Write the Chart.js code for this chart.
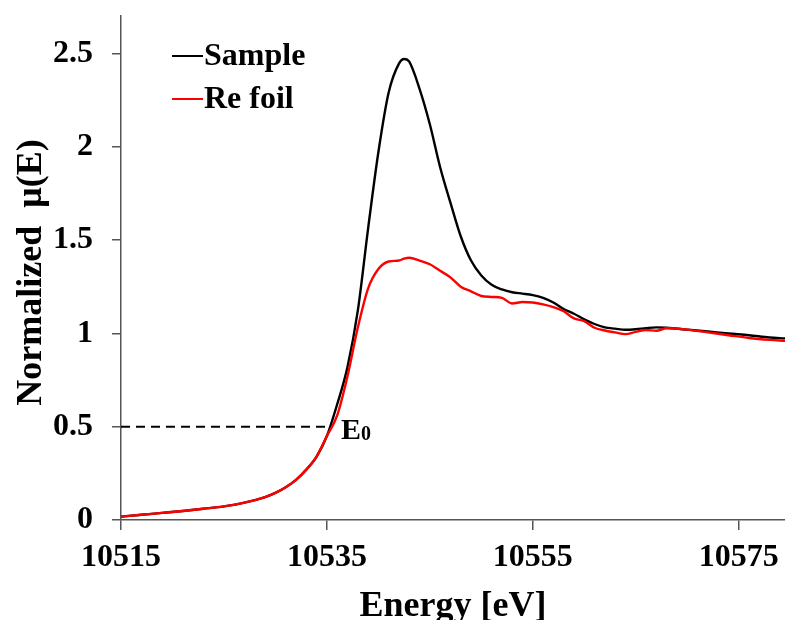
<!DOCTYPE html>
<html>
<head>
<meta charset="utf-8">
<script src="https://cdn.jsdelivr.net/npm/chart.js@4/dist/chart.umd.min.js"></script>
<style>
html,body{margin:0;padding:0;background:#fff;}
canvas{display:block;}
</style>
</head>
<body>
<canvas id="c" width="785" height="620"></canvas>
<script>
// ---- data ----
const energy = [10515,10517,10519,10521,10523,10525,10527,10529,10530,10531,10532,10533,10534,10535,
  10536,10537,10538,10539,10540,10541,10542,10542.5,10543,10544,10545,10546,10547,10548,10549,10550,
  10551,10552,10553,10554,10555,10556,10557,10558,10559,10560,10561,10562,10563,10564,10565,
  10566,10567,10568,10570,10572,10574,10576,10578,10579.5];
const sample = [0.018,0.028,0.038,0.048,0.060,0.073,0.093,0.123,0.145,0.175,0.215,0.270,0.340,0.450,
  0.620,0.820,1.120,1.560,1.970,2.290,2.445,2.470,2.455,2.310,2.120,1.890,1.700,1.520,1.390,1.310,
  1.260,1.235,1.220,1.213,1.205,1.190,1.165,1.130,1.105,1.075,1.050,1.032,1.025,1.019,1.022,
  1.028,1.032,1.030,1.020,1.010,0.999,0.990,0.978,0.973];
const reFoil = [0.018,0.028,0.038,0.048,0.060,0.073,0.093,0.123,0.145,0.175,0.215,0.270,0.340,0.450,
  0.560,0.770,1.030,1.240,1.345,1.385,1.390,1.400,1.405,1.390,1.370,1.335,1.300,1.250,1.225,1.200,
  1.195,1.190,1.160,1.168,1.165,1.155,1.140,1.118,1.080,1.065,1.030,1.015,1.005,0.996,1.008,
  1.018,1.014,1.027,1.020,1.005,0.990,0.975,0.965,0.960];
const xTicks = [10515,10535,10555,10575];
const yTicks = [0,0.5,1,1.5,2,2.5];
const e0Energy = 10535.3;
const e0Level = 0.5;
const seriesNames = ['Sample','Re foil'];
const xTitle = 'Energy [eV]';
const yTitle = 'Normalized  \u03bc(E) ';

const toXY = (xs, ys) => xs.map((x,i)=>({x:x,y:ys[i]}));

const serif = "'Liberation Serif','Times New Roman',serif";
const axisColor = '#555';

const overlay = {
  id:'overlay',
  afterDraw(chart){
    const ctx = chart.ctx;
    ctx.save();
    // legend
    const items = [{name:seriesNames[0], color:'#000', y:56},{name:seriesNames[1], color:'#ff0000', y:99}];
    ctx.font = "bold 32px " + serif;
    ctx.textBaseline = 'alphabetic';
    ctx.textAlign = 'left';
    items.forEach(it=>{
      ctx.strokeStyle = it.color; ctx.lineWidth = 2;
      ctx.beginPath(); ctx.moveTo(172, it.y); ctx.lineTo(203, it.y); ctx.stroke();
      ctx.fillStyle = '#000';
      ctx.fillText(it.name, 204, it.y + 9);
    });
    // E0 label
    const xs = chart.scales.x, ys = chart.scales.y;
    const px = xs.getPixelForValue(e0Energy) + 11;
    const py = ys.getPixelForValue(e0Level) + 12;
    ctx.font = "bold 30px " + serif;
    ctx.fillText('E', px, py);
    const w = ctx.measureText('E').width;
    ctx.font = "bold 20px " + serif;
    ctx.fillText('0', px + w, py + 1);
    ctx.restore();
  }
};

new Chart(document.getElementById('c'), {
  type:'line',
  data:{
    datasets:[
      {label:seriesNames[0], data:toXY(energy, sample), borderColor:'#000', borderWidth:2.4,
       pointRadius:0, cubicInterpolationMode:'monotone', order:1, fill:false},
      {label:seriesNames[1], data:toXY(energy, reFoil), borderColor:'#ff0000', borderWidth:2.4,
       pointRadius:0, cubicInterpolationMode:'monotone', order:0, fill:false},
      {label:'E0', data:[{x:energy[0], y:e0Level},{x:e0Energy, y:e0Level}], borderColor:'#000',
       borderWidth:2, borderDash:[9,6], pointRadius:0, order:2, fill:false}
    ]
  },
  options:{
    responsive:false,
    animation:false,
    layout:{padding:{top:16, right:0, bottom:0, left:0}},
    plugins:{legend:{display:false}, tooltip:{enabled:false}},
    scales:{
      x:{
        type:'linear', min:10515, max:10579.5,
        afterBuildTicks(s){ s.ticks = xTicks.map(v=>({value:v})); },
        afterFit(s){ s.height = 100; s.paddingLeft = 0; s.paddingRight = 0; },
        grid:{drawOnChartArea:false, drawTicks:true, tickLength:10, color:axisColor, lineWidth:1.5},
        border:{display:true, color:axisColor, width:1.5},
        ticks:{color:'#000', font:{family:serif, size:32, weight:'bold'}, padding:9, maxRotation:0,
               callback:(v)=>String(v)},
        title:{display:true, text:xTitle, color:'#000', font:{family:serif, size:36, weight:'bold'},
               padding:{top:0, bottom:-8}}
      },
      y:{
        type:'linear', min:0, max:2.7,
        afterBuildTicks(s){ s.ticks = yTicks.map(v=>({value:v})); },
        afterFit(s){ s.width = 121; s.paddingTop = 0; s.paddingBottom = 0; },
        grid:{drawOnChartArea:false, drawTicks:true, tickLength:9, color:axisColor, lineWidth:1.5},
        border:{display:true, color:axisColor, width:1.5},
        ticks:{color:'#000', font:{family:serif, size:32, weight:'bold'}, padding:19,
               callback:(v)=>String(v)},
        title:{display:true, text:yTitle, color:'#000', font:{family:serif, size:36, weight:'bold'},
               padding:{top:10, bottom:0}}
      }
    }
  },
  plugins:[overlay]
});
</script>
</body>
</html>
